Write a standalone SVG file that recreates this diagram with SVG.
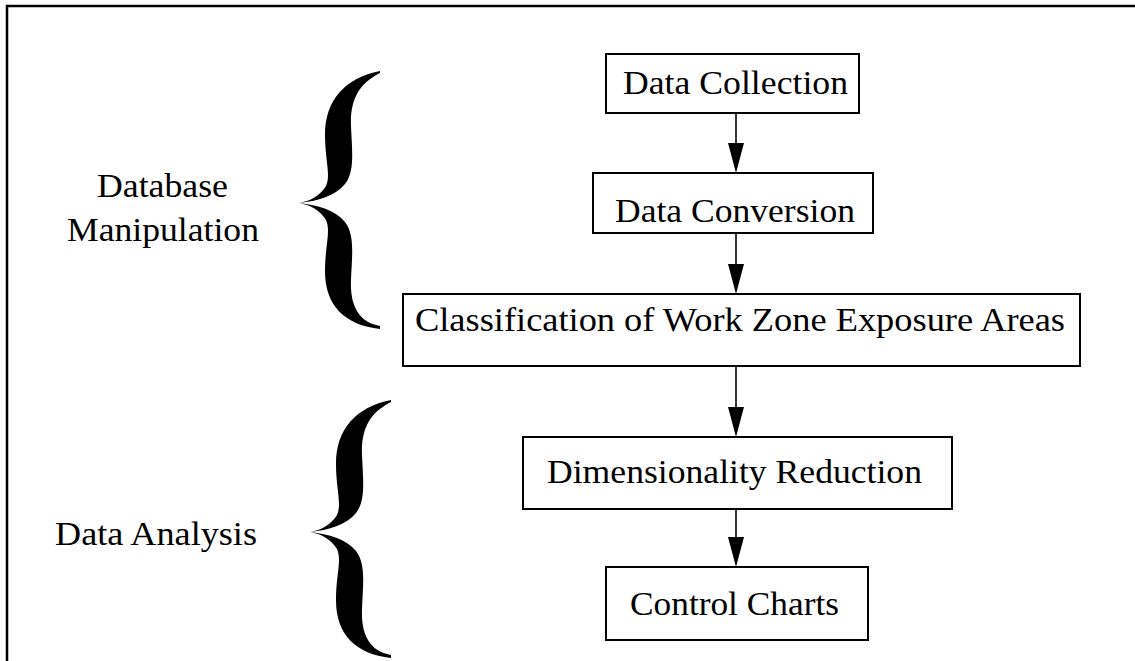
<svg xmlns="http://www.w3.org/2000/svg" width="1135" height="661" viewBox="0 0 1135 661">
<style>
.box{fill:#fff;stroke:#000;stroke-width:2}
.t{font-family:"Liberation Serif","Times New Roman",serif;font-size:34px;fill:#000}
.c{stroke:#000;stroke-width:1.6;fill:none}
.ah{fill:#000}
.frame{stroke:#000;stroke-width:2.5;fill:none}
</style>
<defs>
<path id="brace" d="M380,71 C345,78 325,100 325,135 C325,160 331,175 326,186 C320,196 310,201 299,203 C310,205 320,210 326,220 C331,231 325,246 325,271 C325,306 345,325 380,329 L380,326 C358,322 350,305 351,280 C352,255 355,235 345,222 C335,210 318,205 299,203 C318,201 335,196 345,184 C355,171 352,151 351,126 C350,101 358,84 380,73 Z" fill="#000"/>
</defs>
<rect width="1135" height="661" fill="#fff"/>
<path class="frame" d="M7,661 L7,6 L1135,6"/>
<g id="label-db">
<text class="t" x="97" y="197" textLength="131" lengthAdjust="spacingAndGlyphs">Database</text>
<text class="t" x="67" y="241" textLength="192" lengthAdjust="spacingAndGlyphs">Manipulation</text>
</g>
<g id="brace-db"><use href="#brace"/></g>
<g id="label-da">
<text class="t" x="55" y="545" textLength="202" lengthAdjust="spacingAndGlyphs">Data Analysis</text>
</g>
<g id="brace-da"><use href="#brace" transform="translate(11,329)"/></g>
<g id="connectors">
<line class="c" x1="736" y1="113" x2="736" y2="145"/>
<polygon class="ah" points="728,143 744,143 736,173"/>
<line class="c" x1="736" y1="233" x2="736" y2="266"/>
<polygon class="ah" points="728,264 744,264 736,294"/>
<line class="c" x1="736" y1="366" x2="736" y2="409"/>
<polygon class="ah" points="728,407 744,407 736,437"/>
<line class="c" x1="736" y1="509" x2="736" y2="539"/>
<polygon class="ah" points="728,537 744,537 736,567"/>
</g>
<g id="n1">
<rect class="box" x="606" y="54" width="253" height="59"/>
<text class="t" x="623" y="94" textLength="225" lengthAdjust="spacingAndGlyphs">Data Collection</text>
</g>
<g id="n2">
<rect class="box" x="593" y="173" width="280" height="60"/>
<text class="t" x="615" y="222" textLength="240" lengthAdjust="spacingAndGlyphs">Data Conversion</text>
</g>
<g id="n3">
<rect class="box" x="403" y="294" width="677" height="72"/>
<text class="t" x="415" y="331" textLength="650" lengthAdjust="spacingAndGlyphs">Classification of Work Zone Exposure Areas</text>
</g>
<g id="n4">
<rect class="box" x="523" y="437" width="429" height="72"/>
<text class="t" x="547" y="483" textLength="375" lengthAdjust="spacingAndGlyphs">Dimensionality Reduction</text>
</g>
<g id="n5">
<rect class="box" x="606" y="567" width="262" height="73"/>
<text class="t" x="630" y="615" textLength="209" lengthAdjust="spacingAndGlyphs">Control Charts</text>
</g>
</svg>
